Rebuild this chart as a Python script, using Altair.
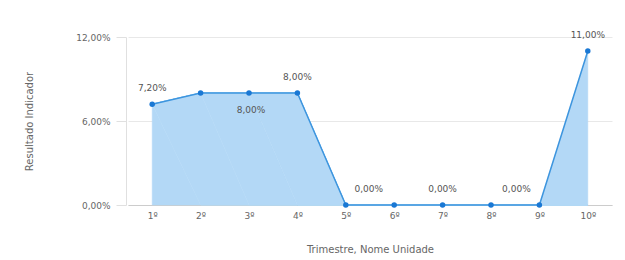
import altair as alt
import pandas as pd

categories = ["1º", "2º", "3º", "4º", "5º", "6º", "7º", "8º", "9º", "10º"]
values = [7.20, 8.00, 8.00, 8.00, 0.00, 0.00, 0.00, 0.00, 0.00, 11.00]
label_above = ["1º", "4º", "7º", "10º"]
label_below = ["3º"]
label_right = ["5º"]
label_left = ["9º"]

df = pd.DataFrame({"cat": categories, "val": values, "order": list(range(len(categories)))})
df["lbl"] = df["val"].map(lambda v: f"{v:.2f}".replace(".", ",") + "%")

font = "DejaVu Sans"
xenc = alt.X("cat:N", sort=categories, title="Trimestre, Nome Unidade",
             scale=alt.Scale(type="point", padding=0.5),
             axis=alt.Axis(labelAngle=0, ticks=False, grid=False, domainColor="#cccccc",
                           labelColor="#666666", labelFontSize=9, labelFont=font, labelPadding=6,
                           titleColor="#666666", titleFontSize=10, titleFont=font,
                           titleFontWeight="normal", titlePadding=24))
yenc = alt.Y("val:Q", title="Resultado Indicador",
             scale=alt.Scale(domain=[0, 12], nice=False),
             axis=alt.Axis(values=[0, 6, 12], labelExpr="replace(format(datum.value, '.2f'), '.', ',') + '%'",
                           domainColor="#e0e0e0", tickColor="#e0e0e0", tickSize=10, gridColor="#e8e8e8",
                           labelColor="#666666", labelFontSize=9, labelFont=font, labelPadding=6,
                           titleColor="#666666", titleFontSize=10, titleFont=font,
                           titleFontWeight="normal", titleX=-92, offset=2))

base = alt.Chart(df)
area = base.mark_area(color="#b3d8f6", opacity=1, interpolate="linear",
                      stroke="#b3d8f6", strokeWidth=0.5).encode(x=xenc, y=yenc, order="order:Q")
line = base.mark_line(color="#3d95de", strokeWidth=1.5).encode(x=xenc, y="val:Q", order="order:Q")
pts = base.mark_circle(color="#1a78d4", size=30, opacity=1).encode(x=xenc, y="val:Q")

def lbl(cats, dx, dy):
    return base.transform_filter(alt.FieldOneOfPredicate(field="cat", oneOf=cats)).mark_text(
        dx=dx, dy=dy, font=font, fontSize=9, color="#555555"
    ).encode(x=xenc, y="val:Q", text="lbl:N")

chart = alt.layer(
    area, line, pts,
    lbl(label_above, 0, -16), lbl(label_below, 2, 17),
    lbl(label_right, 23, -16), lbl(label_left, -23, -16),
).properties(
    width=484, height=168,
    autosize=alt.AutoSizeParams(type="none"),
    padding={"left": 120, "top": 29, "right": 5, "bottom": 54},
).configure(background="white").configure_view(stroke=None)

chart.save("out.html", embed_options={"renderer": "svg", "actions": False})
